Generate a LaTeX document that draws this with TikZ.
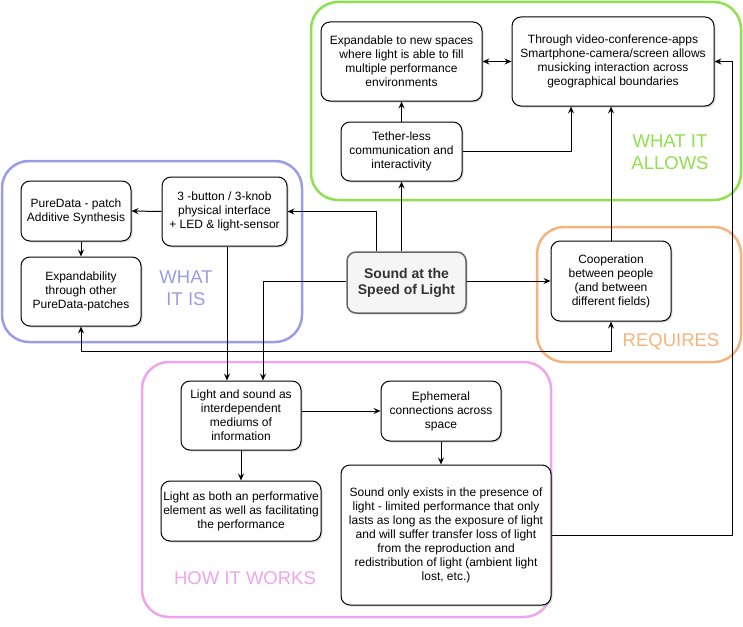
\documentclass[tikz,border=0pt]{standalone}
\usepackage{fontspec}
\setmainfont{Liberation Sans}
\usetikzlibrary{positioning,shadows,arrows.meta}
\definecolor{allowgreen}{HTML}{8EE04E}
\definecolor{isviolet}{HTML}{9C9CE6}
\definecolor{needorange}{HTML}{F4B47C}
\definecolor{workpink}{HTML}{EFA4EE}
\tikzset{
    every picture/.style={>={Stealth[length=7pt,width=6pt,inset=2.5pt]},auto},
}

\begin{document}
\begin{tikzpicture}[x=1pt,y=-1pt,line width=1pt,
    item/.style={draw=black,rounded corners=9,fill=white,align=center,inner sep=1pt,
        font=\fontsize{12}{14}\selectfont,
        drop shadow={shadow xshift=1.5pt,shadow yshift=-1.5pt,opacity=0.3}},
    group/.style={draw=#1,line width=2.5pt,rounded corners=27},
    grouplabel/.style={text=#1,align=center,font=\fontsize{18.5}{22}\selectfont}]
\useasboundingbox (0,0) rectangle (743,626);

% the four areas
\draw[group=allowgreen] (311,2) rectangle (741,200);
\draw[group=isviolet] (2,161) rectangle (302,342);
\draw[group=needorange] (537,227) rectangle (741,362);
\draw[group=workpink] (142,362) rectangle (551,617);

\node[grouplabel=allowgreen] (lallow) at (670,152) {WHAT IT\\ALLOWS};
\node[grouplabel=isviolet] (lis) at (186,288) {WHAT\\IT IS};
\node[grouplabel=needorange] (lneed) at (671,342) {REQUIRES};
\node[grouplabel=workpink] (lwork) at (245,578) {HOW IT WORKS};

% boxes
\node[item,minimum width=161,minimum height=79] (expa) at (401.5,61.5)
    {Expandable to new spaces\\where light is able to fill\\multiple performance\\environments};
\node[item,minimum width=202,minimum height=89] (video) at (613,61.5)
    {Through video-conference-apps\\Smartphone-camera/screen allows\\musicking interaction across\\geographical boundaries};
\node[item,minimum width=121,minimum height=59] (tether) at (401.5,151.5)
    {Tether-less\\communication and\\interactivity};
\node[item,minimum width=110,minimum height=60] (patch) at (76,211)
    {PureData - patch\\Additive Synthesis};
\node[item,minimum width=125,minimum height=69] (knob) at (224.5,211.5)
    {3 -button / 3-knob\\physical interface\\+ LED \& light-sensor};
\node[item,minimum width=120,minimum height=69] (expd) at (81,291.5)
    {Expandability\\through other\\PureData-patches};
\node[item,minimum width=119,minimum height=61,fill=black!4,draw=black!60,line width=1.5pt,
    text=black!80,font=\fontsize{14}{16}\selectfont\bfseries] (sound) at (406.5,282.5)
    {Sound at the\\Speed of Light};
\node[item,minimum width=120,minimum height=80] (coop) at (611,281)
    {Cooperation\\between people\\(and between\\different fields)};
\node[item,minimum width=120,minimum height=69] (medium) at (241,415.5)
    {Light and sound as\\interdependent\\mediums of\\information};
\node[item,minimum width=120,minimum height=60] (ephem) at (441,411)
    {Ephemeral\\connections across\\space};
\node[item,minimum width=160,minimum height=60] (both) at (241,511)
    {Light as both an performative\\element as well as facilitating\\the performance};
\node[item,minimum width=210,minimum height=140] (exist) at (446,535)
    {Sound only exists in the presence of\\light - limited performance that only\\lasts as long as the exposure of light\\and will suffer transfer loss of light\\from the reproduction and\\redistribution of light (ambient light\\lost, etc.)};

\coordinate (rail) at (732,0);
\coordinate (bus) at (0,351);

% connectors
\draw[->] ([xshift=-30]sound.north) |- (knob.east);
\draw[->] (tether.south |- sound.north) -- (tether.south);
\draw[->] (tether.north) -- (expa.south);
\draw[->] (tether.east) -| ([xshift=-42]video.south);
\draw[<->] (expa.east) -- (video.west);
\draw[->] (coop.north) -- (coop.north |- video.south);
\draw[->] (exist.east) -- (exist.east -| rail) -- (rail |- video.east) -- (video.east);
\draw[->] (sound.east |- coop.west) -- (coop.west);
\draw[->] (sound.west |- coop.west) -| ([xshift=22]medium.north);
\draw[->] ([xshift=2.5]knob.south) -- ([xshift=2.5]knob.south |- medium.north);
\draw[->] (knob.west) -- (patch.east);
\draw[->] ([xshift=5]patch.south) -- ([xshift=5]patch.south |- expd.north);
\draw[<->] (expd.south) -- (expd.south |- bus) -| (coop.south);
\draw[->] (medium.east |- ephem.west) -- (ephem.west);
\draw[->] (medium.south) -- (both.north);
\draw[->] (ephem.south) -- (ephem.south |- exist.north);
\end{tikzpicture}
\end{document}
